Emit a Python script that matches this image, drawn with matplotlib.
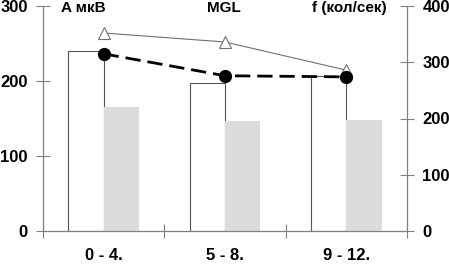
import matplotlib
matplotlib.use("Agg")
import matplotlib.pyplot as plt
import numpy as np

plt.rcParams["font.family"] = ["Liberation Sans", "DejaVu Sans"]
plt.rcParams["font.weight"] = "bold"

# Datos
grupos = ["0 - 4.", "5 - 8.", "9 - 12."]
a_mkv = [240, 197, 207]          # barras blancas (eje izquierdo)
a_gris = [165, 147, 148]         # barras grises (eje izquierdo)
f_kol = [315, 276, 274]          # círculos, eje derecho
mgl = [352, 336, 286]            # triángulos, eje derecho

GRIS = "#808080"
x = np.arange(len(grupos))
w = 0.29

fig = plt.figure(figsize=(4.49, 2.65), dpi=100)
ax = fig.add_axes([43 / 449, 34 / 265, 364 / 449, 225 / 265])
ax2 = ax.twinx()

ax.bar(x - w / 2, a_mkv, w, color="white", edgecolor="#555555", linewidth=0.8, zorder=2)
ax.bar(x + w / 2, a_gris, w, color="#dcdcdc", edgecolor="none", zorder=2)

ax2.plot(x, mgl, color="#707070", linewidth=0.8, marker="^", markersize=8,
         markerfacecolor="white", markeredgecolor="#707070", markeredgewidth=0.8)
ax2.plot(x, f_kol, color="black", linewidth=2, dashes=(5.5, 2.5), marker="o",
         markersize=8.5, markerfacecolor="black", markeredgecolor="black")

ax.set_xlim(-0.5, 2.5)
ax.set_ylim(0, 300)
ax2.set_ylim(0, 400)
ax.set_yticks([0, 100, 200, 300])
ax2.set_yticks([0, 100, 200, 300, 400])

ax.set_xticks([-0.5, 0.5, 1.5, 2.5])
ax.set_xticklabels([])
ax.set_xticks(x, minor=True)
ax.set_xticklabels(grupos, minor=True, fontsize=12, fontweight="bold")
ax.tick_params(axis="x", which="minor", length=0, pad=12)
ax.tick_params(axis="x", which="major", direction="inout", length=10, color=GRIS)
ax.tick_params(axis="y", direction="inout", length=10, color=GRIS, labelsize=12, pad=6)
ax2.tick_params(axis="y", direction="inout", length=10, color=GRIS, labelsize=12, pad=6)

for a in (ax, ax2):
    a.spines["top"].set_visible(False)
    for s in ("left", "right", "bottom"):
        a.spines[s].set_color(GRIS)
        a.spines[s].set_linewidth(0.9)
ax.spines["right"].set_visible(False)
ax2.spines["left"].set_visible(False)
ax2.spines["bottom"].set_visible(False)

for t, xp in [("A мкВ", 0.111), ("MGL", 0.497), ("f (кол/сек)", 0.841)]:
    ax.text(xp, 0.99, t, transform=ax.transAxes, ha="center", va="center",
            fontsize=11, fontweight="bold")

fig.savefig("out.png", dpi=100)
